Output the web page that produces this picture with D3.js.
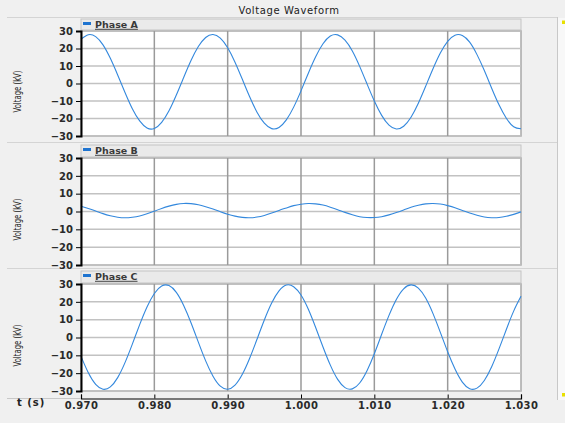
<!DOCTYPE html>
<html lang="en">
<head>
<meta charset="UTF-8">
<title>Voltage Waveform</title>
<script src="https://d3js.org/d3.v7.min.js"></script>
<style>
    body { margin: 0; background: #f0f0f0; }
    svg { display: block; font-family: "DejaVu Sans", sans-serif; }
</style>
</head>
<body>
<svg width="565" height="423" id="mainsvg"></svg>
<script>
    // samples, one every ms from 0.970 s
    const tStart = 0.970;
    const tStep = 0.001;
    const phaseA = [25.3, 27.9, 26.8, 22.1, 14.4, 4.9, -5.1, -14.4, -21.4, -25.4, -25.7,
        -22.2, -15.6, -6.6, 3.4, 13.1, 21.1, 26.3, 28.0, 25.9, 20.4,
        12.2, 2.4, -7.6, -16.4, -22.7, -25.8, -25.1, -20.8, -13.5, -4.2,
        5.9, 15.3, 22.7, 27.1, 27.8, 24.8, 18.6, 9.8, -0.2, -10.0,
        -18.2, -23.8, -26.0, -24.4, -19.3, -11.3, -1.6, 8.4, 17.4, 24.1,
        27.6, 27.4, 23.6, 16.5, 7.4, -2.7, -12.2, -19.9, -24.7, -25.9];
    const phaseB = [3.0, 1.7, 0.3, -1.2, -2.4, -3.2, -3.5, -3.2, -2.5, -1.3, 0.2,
        1.7, 3.0, 4.0, 4.5, 4.4, 3.8, 2.7, 1.4, -0.1, -1.5,
        -2.6, -3.3, -3.5, -3.1, -2.2, -0.9, 0.6, 2.0, 3.3, 4.1,
        4.5, 4.3, 3.6, 2.4, 1.0, -0.5, -1.8, -2.9, -3.4, -3.4,
        -2.9, -1.9, -0.6, 0.9, 2.4, 3.5, 4.3, 4.5, 4.2, 3.3,
        2.1, 0.6, -0.8, -2.1, -3.1, -3.5, -3.4, -2.7, -1.6, -0.2];
    const phaseC = [-10.6, -19.8, -26.3, -29.0, -27.7, -22.5, -14.1, -3.7, 7.2, 17.1, 24.7,
        28.9, 29.1, 25.3, 18.0, 8.3, -2.6, -13.1, -21.7, -27.3, -29.0,
        -26.7, -20.6, -11.6, -1.0, 9.8, 19.3, 26.1, 29.4, 28.5, 23.8,
        15.8, 5.6, -5.3, -15.5, -23.5, -28.1, -28.8, -25.5, -18.6, -9.1,
        1.8, 12.4, 21.3, 27.3, 29.5, 27.7, 22.1, 13.4, 2.9, -8.0,
        -17.7, -25.0, -28.7, -28.4, -24.1, -16.4, -6.4, 4.5, 14.8, 23.1];
    const seriesNames = ['Phase A', 'Phase B', 'Phase C'];
    const yTicks = [-30, -20, -10, 0, 10, 20, 30];
    const xTicks = [0.970, 0.980, 0.990, 1.000, 1.010, 1.020, 1.030];

    const svg = d3.select('#mainsvg');
    const width = +svg.attr('width');
    const height = +svg.attr('height');
    const margin = {left: 81, right: 44};
    const plotRight = width - margin.right;
    const axisY = 398.5;

    // panel layout: legend strip top, plot top, plot bottom
    const layout = [
        {strip: 19, top: 31, bottom: 136},
        {strip: 145, top: 158, bottom: 265},
        {strip: 271, top: 284, bottom: 391}
    ];
    const allValues = [phaseA, phaseB, phaseC];

    const xScale = d3.scaleLinear().domain([xTicks[0], xTicks[xTicks.length - 1]]).range([margin.left, plotRight]);

    // frame
    svg.append('line').attr('x1', 7).attr('x2', 557).attr('y1', 17.5).attr('y2', 17.5).attr('stroke', '#d4d4d4');
    svg.append('line').attr('x1', 557.5).attr('x2', 557.5).attr('y1', 17).attr('y2', 400).attr('stroke', '#c8c8c8');
    svg.append('rect').attr('x', 558).attr('y', 18).attr('width', 7).attr('height', 382).attr('fill', '#f8f8f8');
    svg.append('rect').attr('x', 562).attr('y', 20.5).attr('width', 3).attr('height', 3.5).attr('fill', '#e8e000');
    svg.append('rect').attr('x', 562).attr('y', 393).attr('width', 3).attr('height', 3.5).attr('fill', '#e8e000');
    [142.5, 268.5].forEach(y => {
        svg.append('line').attr('x1', 7).attr('x2', 557).attr('y1', y).attr('y2', y).attr('stroke', '#d4d4d4');
    });

    svg.append('text').text('Voltage Waveform')
        .attr('x', 289).attr('y', 14)
        .attr('text-anchor', 'middle')
        .attr('font-size', '10px')
        .attr('letter-spacing', '0.6px')
        .attr('fill', '#222');

    layout.forEach((p, i) => {
        const values = allValues[i];
        const yScale = d3.scaleLinear().domain([-30, 30]).range([p.bottom, p.top]);
        const g = svg.append('g');

        // legend strip
        g.append('rect')
            .attr('x', margin.left).attr('y', p.strip)
            .attr('width', plotRight - margin.left).attr('height', p.top - p.strip - 1)
            .attr('fill', '#eaeaea').attr('stroke', '#c4c4c4');
        g.append('rect').attr('x', 83).attr('y', p.strip + 3).attr('width', 8).attr('height', 3).attr('fill', '#1f74d0');
        g.append('text').text(seriesNames[i])
            .attr('x', 95).attr('y', p.strip + 8.8)
            .attr('font-size', '9.5px').attr('font-weight', 'bold')
            .attr('text-decoration', 'underline')
            .attr('fill', '#3a3a3a');

        // plot area
        g.append('rect')
            .attr('x', margin.left).attr('y', p.top)
            .attr('width', plotRight - margin.left).attr('height', p.bottom - p.top)
            .attr('fill', 'white').attr('stroke', '#a8a8a8').attr('stroke-width', 1.5);

        // grid
        g.selectAll('.hgrid').data(yTicks).join('line')
            .attr('x1', margin.left).attr('x2', plotRight)
            .attr('y1', d => yScale(d)).attr('y2', d => yScale(d))
            .attr('stroke', '#c2c2c2').attr('stroke-width', 1.5);
        g.selectAll('.vgrid').data(xTicks.slice(1, -1)).join('line')
            .attr('x1', d => xScale(d)).attr('x2', d => xScale(d))
            .attr('y1', p.top).attr('y2', p.bottom)
            .attr('stroke', '#9a9a9a').attr('stroke-width', 1.5);

        // waveform
        const line = d3.line()
            .x((d, j) => xScale(tStart + j * tStep))
            .y(d => yScale(d))
            .curve(d3.curveNatural);
        g.append('path').datum(values)
            .attr('d', line)
            .attr('fill', 'none')
            .attr('stroke', '#3388dd')
            .attr('stroke-width', 1.1);

        // y axis
        const yAxis = d3.axisLeft(yScale).tickValues(yTicks).tickSize(5).tickPadding(3);
        const ya = g.append('g').attr('transform', `translate(${margin.left},0)`).call(yAxis);
        ya.select('.domain').attr('stroke', '#000').attr('stroke-width', 2);
        ya.selectAll('.tick line').attr('stroke', '#000');
        ya.selectAll('.tick text')
            .attr('font-size', '10px').attr('font-weight', 'bold')
            .attr('font-family', '"DejaVu Sans", sans-serif').attr('fill', '#2a2a2a');

        const cy = (p.top + p.bottom) / 2 + 8;
        g.append('text').text('Voltage (kV)')
            .attr('transform', `translate(21,${cy}) rotate(-90)`)
            .attr('text-anchor', 'middle')
            .attr('font-size', '10px')
            .attr('textLength', 42).attr('lengthAdjust', 'spacingAndGlyphs')
            .attr('fill', '#222');
    });

    // x axis
    const xAxis = d3.axisBottom(xScale).tickValues(xTicks).tickFormat(d3.format('.3f')).tickSize(-4).tickPadding(3);
    const xa = svg.append('g').attr('transform', `translate(0,${axisY})`).call(xAxis);
    xa.select('.domain').attr('stroke', '#000').attr('stroke-width', 1.2);
    xa.selectAll('.tick line').attr('stroke', '#000');
    xa.selectAll('.tick text')
        .attr('font-size', '10px').attr('font-weight', 'bold')
        .attr('letter-spacing', '0.4px')
        .attr('font-family', '"DejaVu Sans", sans-serif').attr('fill', '#2a2a2a');
    svg.append('line').attr('x1', 7).attr('x2', margin.left).attr('y1', axisY).attr('y2', axisY).attr('stroke', '#c8c8c8');

    svg.append('text').text('t (s)')
        .attr('x', 17).attr('y', 406)
        .attr('font-size', '10px').attr('font-weight', 'bold')
        .attr('letter-spacing', '1px')
        .attr('fill', '#222');
</script>
</body>
</html>
